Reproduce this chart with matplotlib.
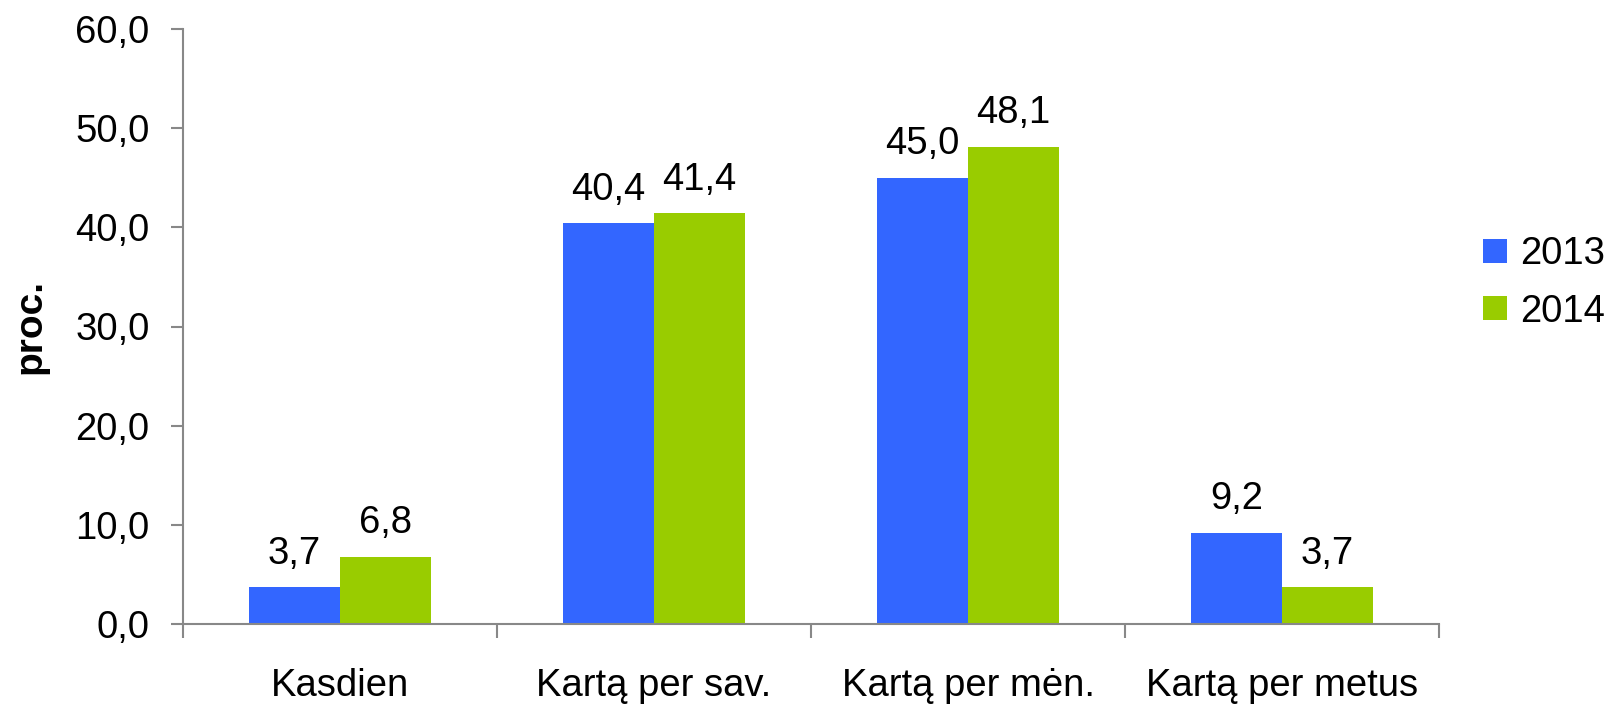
import matplotlib
matplotlib.use("Agg")
import matplotlib.pyplot as plt
import numpy as np

categories = ["Kasdien", "Kartą per sav.", "Kartą per mėn.", "Kartą per metus"]
series_names = ["2013", "2014"]
values_2013 = [3.7, 40.4, 45.0, 9.2]
values_2014 = [6.8, 41.4, 48.1, 3.7]
yticks = [0, 10, 20, 30, 40, 50, 60]
colors = ["#3366FF", "#99CC00"]

plt.rcParams['font.family'] = ['Liberation Sans', 'DejaVu Sans']
FS = 27.5

fig = plt.figure(figsize=(16.17, 7.06), dpi=100)
ax = fig.add_axes([183/1617, 1-624/706, (1439-183)/1617, (624-29)/706])

x = np.arange(len(categories))
w = 0.29
for k, (vals, name) in enumerate(zip([values_2013, values_2014], series_names)):
    pos = x + (k - 0.5) * w
    ax.bar(pos, vals, width=w, color=colors[k], label=name, zorder=2)
    for p, v in zip(pos, vals):
        ax.annotate(f"{v:.1f}".replace(".", ","), (p, v), xytext=(0, 17),
                    textcoords='offset points', ha='center', va='baseline',
                    fontsize=FS, color='black')

ax.set_xlim(-0.5, len(categories) - 0.5)
ax.set_ylim(0, 60)
ax.set_yticks(yticks)
ax.set_yticklabels([f"{t:.1f}".replace(".", ",") for t in yticks], fontsize=FS)
ax.set_xticks(x)
ax.set_xticklabels(categories, fontsize=FS)
ax.set_xticks(np.arange(len(categories) + 1) - 0.5, minor=True)
ax.tick_params(axis='x', which='major', length=0, pad=32)
ax.tick_params(axis='x', which='minor', length=10, width=1.5, color='#888888', direction='out')
ax.tick_params(axis='y', length=9, width=1.5, color='#888888', direction='out', pad=15)

for s in ['top', 'right']:
    ax.spines[s].set_visible(False)
for s in ['left', 'bottom']:
    ax.spines[s].set_color('#888888')
    ax.spines[s].set_linewidth(1.5)

ax.set_ylabel("proc.", fontsize=28, fontweight='bold')
ax.yaxis.set_label_coords(48/1617, 1-326/706, transform=fig.transFigure)

ax.legend(loc='center left', bbox_to_anchor=(1483/1617, 1-283/706), bbox_transform=fig.transFigure,
          frameon=False, fontsize=FS, handlelength=0.62, handleheight=0.62,
          handletextpad=0.35, labelspacing=0.55, borderaxespad=0, borderpad=0)

fig.savefig("out.png", dpi=100)
